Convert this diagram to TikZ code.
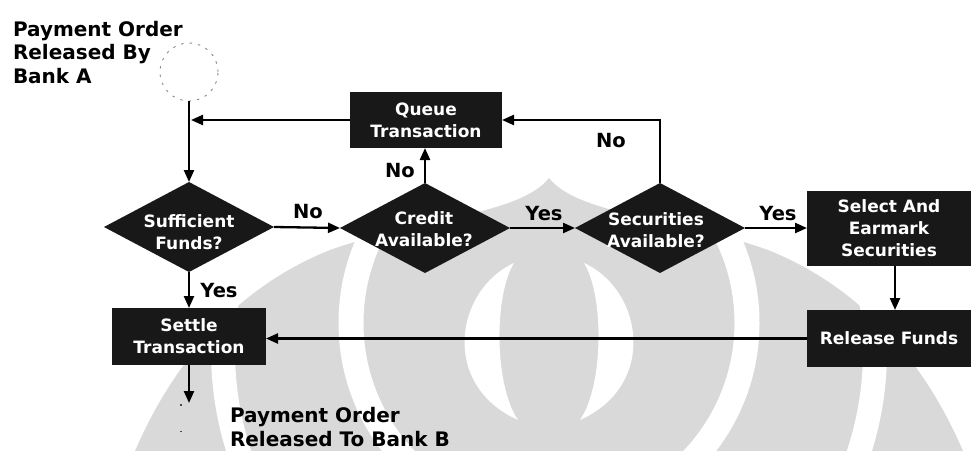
\documentclass[tikz,border=0pt]{standalone}
\usepackage{fontspec}
\setmainfont{DejaVu Sans}
\usetikzlibrary{shapes.geometric,arrows.meta}
\definecolor{wmgray}{RGB}{217,217,217}
\definecolor{ink}{RGB}{24,24,24}
\begin{document}
\begin{tikzpicture}[x=1pt,y=-1pt,
  every node/.style={inner sep=0pt,outer sep=0pt},
  box/.style={rectangle,fill=ink,text=white,align=center,
    font=\fontsize{17}{22}\selectfont\bfseries},
  dia/.style={diamond,fill=ink,minimum width=170pt,minimum height=90pt},
  diatext/.style={text=white,align=center,font=\fontsize{17}{22}\selectfont\bfseries},
  flowlabel/.style={font=\fontsize{19.5}{24}\selectfont\bfseries,anchor=base},
  title/.style={font=\fontsize{20}{23.5}\selectfont\bfseries,align=left,anchor=base west},
  conn/.style={line width=2.3pt,-{Triangle[length=12pt,width=10pt]}},
  terminal/.style={circle,draw=black!45,line width=0.9pt,dash pattern=on 2.5pt off 6pt,minimum size=58pt}
]
\useasboundingbox (0,0) rectangle (971,450);

% faint emblem in the background
\fill[wmgray] (135,451) .. controls (170,370) and (230,290) .. (330,250)
  .. controls (420,218) and (520,215) .. (549,178)
  .. controls (578,215) and (678,218) .. (768,250)
  .. controls (868,290) and (928,370) .. (963,451) -- cycle;
\draw[white,line width=24pt] (549,351) circle[radius=326];
\draw[white,line width=25pt] (549,323) circle[radius=198];
\fill[white] (514,263) .. controls (455,290) and (440,385) .. (518,420)
  .. controls (494,385) and (494,295) .. (514,263) -- cycle;
\fill[white] (584,263) .. controls (643,290) and (658,385) .. (580,420)
  .. controls (604,385) and (604,295) .. (584,263) -- cycle;

% terminals and their captions (a multi-line node sits on its last baseline)
\node[terminal] (start) at (189,72) {};
\node[title] (startT) at (13,83) {Payment Order\\Released By\\Bank A};
\node[title] (stopT) at (230,446) {Payment Order\\Released To Bank B};

% process boxes
\node[box,minimum width=152pt,minimum height=56pt] (queue) at (426,120) {Queue\\Transaction};
\node[box,minimum width=154pt,minimum height=57pt] (settle) at (189,336.5) {Settle\\Transaction};
\node[box,minimum width=164pt,minimum height=75pt] (sel) at (889,228.5) {Select And\\Earmark\\Securities};
\node[box,minimum width=164pt,minimum height=57pt] (rel) at (889,338.5) {Release Funds};

% decisions
\node[dia] (suff) at (189,227) {};
\node[dia] (credit) at (425,228) {};
\node[dia] (sec) at (660,228) {};
\node[diatext] (suffT) at (189,232) {Sufficient\\Funds?};
\node[diatext] (creditT) at (424,229) {Credit\\Available?};
\node[diatext] (secT) at (656,230) {Securities\\Available?};

% connectors
\coordinate (qjoin) at (189,120);
\coordinate (stop) at (189,403);
\draw[conn] (start.south) -- (suff.north);
\draw[conn,shorten >=2pt] (queue.west) -- (qjoin);
\draw[conn] (suff.east) -- (credit.west);
\draw[conn] (credit.north) -- (credit.north |- queue.south);
\draw[conn] (credit.east) -- (sec.west);
\draw[conn] (sec.north) |- (queue.east);
\draw[conn] (sec.east) -- (sec.east -| sel.west);
\draw[conn] ([xshift=6pt]sel.south) -- ([xshift=6pt]rel.north);
\draw[conn] (rel.west) -- (rel.west -| settle.east);
\draw[conn] (suff.south) -- (settle.north);
\draw[conn] (settle.south) -- (stop);
\draw[black!70,line width=1.2pt,dash pattern=on 1.5pt off 25pt] (181,404) -- (181,434);

% branch labels
\node[flowlabel] (noSuff) at (308,218) {No};
\node[flowlabel] (yesSuff) at (219,297) {Yes};
\node[flowlabel] (noCredit) at (400,177) {No};
\node[flowlabel] (yesCredit) at (544,220) {Yes};
\node[flowlabel] (noSec) at (611,147) {No};
\node[flowlabel] (yesSec) at (778,220) {Yes};
\end{tikzpicture}
\end{document}
